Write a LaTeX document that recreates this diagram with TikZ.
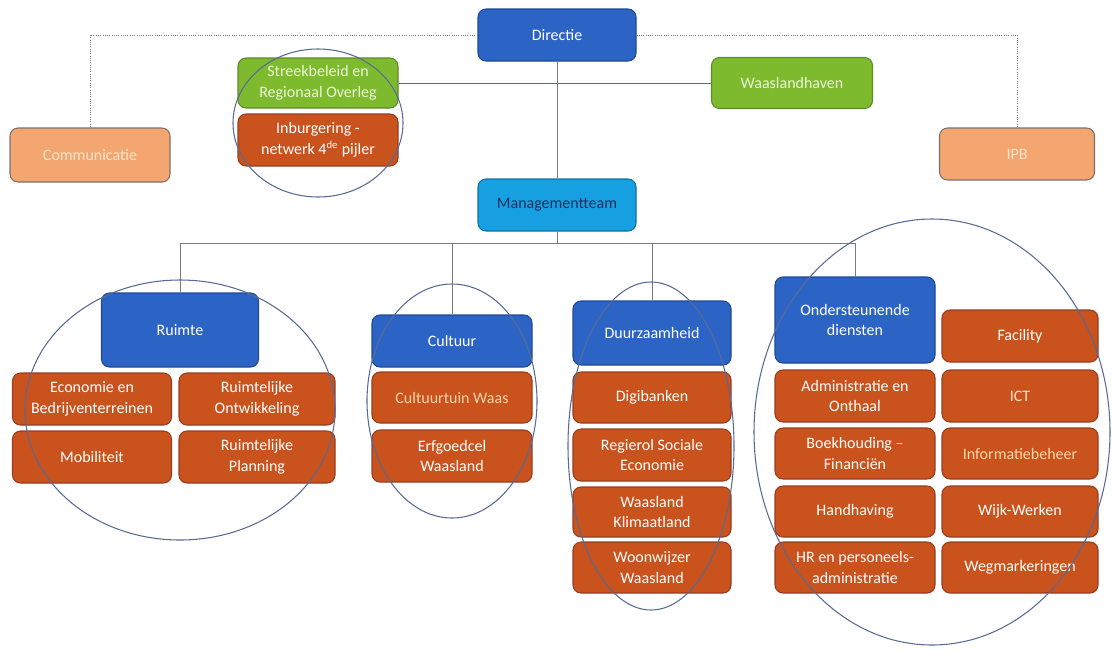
\documentclass[tikz,border=0pt]{standalone}
\usepackage{fontspec}
\setmainfont{Carlito}
\usetikzlibrary{calc}
\definecolor{dirblue}{RGB}{44,100,198}
\definecolor{dirblueD}{RGB}{30,72,150}
\definecolor{mtblue}{RGB}{22,160,226}
\definecolor{mttext}{RGB}{28,48,96}
\definecolor{wgreen}{RGB}{126,186,46}
\definecolor{wgreenD}{RGB}{92,140,40}
\definecolor{gtext}{RGB}{236,245,218}
\definecolor{orD}{RGB}{202,82,28}
\definecolor{orDD}{RGB}{150,62,34}
\definecolor{orL}{RGB}{243,166,112}
\definecolor{orLD}{RGB}{128,112,104}
\definecolor{paletext}{RGB}{252,226,200}
\definecolor{fadetext}{RGB}{250,214,170}
\definecolor{ringcol}{RGB}{88,106,150}
\definecolor{linecol}{RGB}{120,122,132}

\tikzset{
  box/.style={rectangle, rounded corners=6pt, line width=0.8pt, align=center,
    minimum width=158*0.75pt, minimum height=52*0.75pt, inner sep=1pt,
    font=\fontsize{12}{15.5}\selectfont},
  sz/.style 2 args={minimum width=#1*0.75pt, minimum height=#2*0.75pt},
  headbox/.style={box, fill=dirblue, draw=dirblueD, text=white},
  mtbox/.style={box, fill=mtblue, draw=mtblue!70!black, text=mttext},
  greenbox/.style={box, fill=wgreen, draw=wgreenD, text=gtext},
  unitbox/.style={box, fill=orD, draw=orDD, text=white},
  staffbox/.style={box, fill=orL, draw=orLD, text=paletext},
  ring/.style={draw=ringcol, line width=0.8pt},
  solidline/.style={draw=linecol, line width=0.7pt},
  dotline/.style={draw=linecol, line width=0.7pt, densely dotted}
}

\begin{document}
\begin{tikzpicture}[x=0.75pt, y=-0.75pt]
  \useasboundingbox (0,0) rectangle (1113,654);

  %%%%% top %%%%%
  \node[headbox] (dir) at (557,35) {Directie};
  \node[greenbox, sz={160}{50}] (streek) at (318,83) {Streekbeleid en\\Regionaal Overleg};
  \node[unitbox, sz={160}{52}] (inb) at (318,140) {Inburgering -\\netwerk 4\textsuperscript{de} pijler};
  \node[greenbox, sz={161}{51}] (haven) at (792,83) {Waaslandhaven};
  \node[staffbox, sz={160}{54}] (comm) at (90,155) {Communicatie};
  \node[staffbox, sz={155}{52}] (ipb) at (1017,154) {IPB};
  \node[mtbox] (mt) at (557,205) {Managementteam};

  \draw[dotline] (dir.west) -| (comm.north);
  \draw[dotline] (dir.east) -| (ipb.north);
  \draw[solidline, draw=ringcol] (streek.east) -- (haven.west);
  \draw[solidline] (dir.south) -- (mt.north);

  %%%%% departments %%%%%
  \node[headbox, sz={157}{74}] (ruimte) at (180,330) {Ruimte};
  \node[unitbox, sz={159}{52}] (eco) at (92,399) {Economie en\\Bedrijventerreinen};
  \node[unitbox, sz={156}{52}] (ro) at (257,399) {Ruimtelijke\\Ontwikkeling};
  \node[unitbox, sz={159}{52}] (mob) at (92,457) {Mobiliteit};
  \node[unitbox, sz={156}{52}] (rp) at (257,457) {Ruimtelijke\\Planning};

  \node[headbox, sz={160}{52}] (cult) at (452,341) {Cultuur};
  \node[unitbox, sz={160}{51}, text=fadetext] (ctw) at (452,397.5) {Cultuurtuin Waas};
  \node[unitbox, sz={160}{52}] (erf) at (452,456) {Erfgoedcel\\Waasland};

  \node[headbox, sz={158}{64}] (duur) at (652,333) {Duurzaamheid};
  \node[unitbox, sz={158}{51}] (digi) at (652,397.5) {Digibanken};
  \node[unitbox, sz={158}{52}] (regie) at (652,455) {Regierol Sociale\\Economie};
  \node[unitbox, sz={158}{50}] (klim) at (652,512) {Waasland\\Klimaatland};
  \node[unitbox, sz={158}{51}] (woon) at (652,567.5) {Woonwijzer\\Waasland};

  \node[headbox, sz={160}{86}] (ond) at (855,320) {Ondersteunende\\diensten};
  \node[unitbox, sz={160}{52}] (adm) at (855,396) {Administratie en\\Onthaal};
  \node[unitbox, sz={160}{51}] (boek) at (855,453.5) {Boekhouding {\color{fadetext}–}\\Financiën};
  \node[unitbox, sz={160}{51}] (hand) at (855,511.5) {Handhaving};
  \node[unitbox, sz={160}{51}] (hr) at (855,567.5) {HR en personeels-\\administratie};
  \node[unitbox, sz={156}{52}] (fac) at (1020,336) {Facility};
  \node[unitbox, sz={156}{52}, text=paletext] (ict) at (1020,396) {ICT};
  \node[unitbox, sz={156}{51}, text=fadetext] (info) at (1020,453.5) {Informatiebeheer};
  \node[unitbox, sz={156}{51}] (wijk) at (1020,511.5) {Wijk-Werken};
  \node[unitbox, sz={156}{51}] (weg) at (1020,567.5) {Wegmarkeringen};

  % bus under the management team
  \coordinate (bus) at (557,243);
  \draw[solidline] (mt.south) -- (bus);
  \draw[solidline] (ruimte.north |- bus) -- (ond.north |- bus);
  \draw[solidline] (ruimte.north) -- (ruimte.north |- bus);
  \draw[solidline] (cult.north) -- (cult.north |- bus);
  \draw[solidline] (duur.north) -- (duur.north |- bus);
  \draw[solidline] (ond.north) -- (ond.north |- bus);

  %%%%% rings %%%%%
  \draw[ring] (318,123) ellipse [x radius=85, y radius=74];
  \draw[ring] (180,410) ellipse [x radius=155, y radius=130];
  \draw[ring] (452,401) ellipse [x radius=85, y radius=117];
  \draw[ring] (651,446) ellipse [x radius=83, y radius=164];
  \draw[ring] (932,432) ellipse [x radius=178, y radius=213];
\end{tikzpicture}
\end{document}
